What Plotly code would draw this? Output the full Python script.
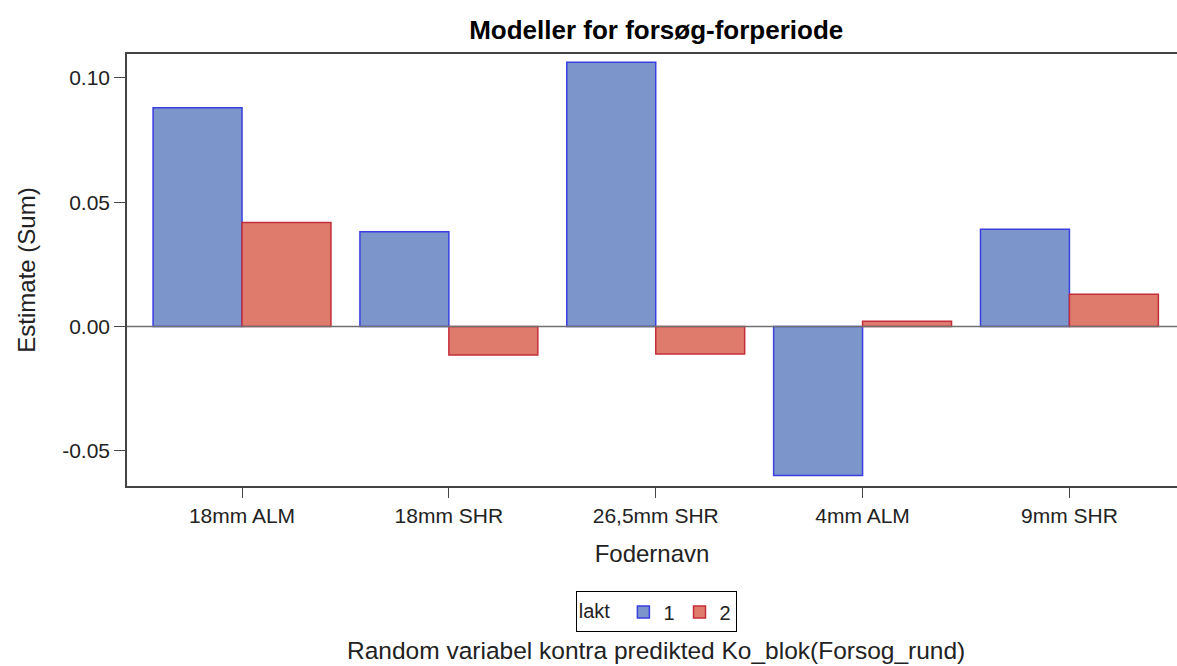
import plotly.graph_objects as go

categories = ["18mm ALM", "18mm SHR", "26,5mm SHR", "4mm ALM", "9mm SHR"]
lakt1 = [0.0880, 0.0381, 0.1063, -0.0599, 0.0391]
lakt2 = [0.0418, -0.0114, -0.0110, 0.0021, 0.0130]
y_ticks = [-0.05, 0.00, 0.05, 0.10]
y_labels = ["-0.05", "0.00", "0.05", "0.10"]

font = "Liberation Sans, Arial, sans-serif"

fig = go.Figure()
fig.add_trace(go.Bar(x=categories, y=lakt1, name="1",
                     marker=dict(color="#7C95CB", line=dict(color="#3A3FE0", width=1.5))))
fig.add_trace(go.Bar(x=categories, y=lakt2, name="2",
                     marker=dict(color="#DE7B6C", line=dict(color="#C42E3A", width=1.5))))

fig.add_hline(y=0, line=dict(color="#707070", width=1.5))

fig.update_layout(
    width=1177, height=666,
    margin=dict(l=127, r=0, t=54, b=180, autoexpand=False),
    paper_bgcolor="white", plot_bgcolor="white",
    font=dict(family=font, size=21, color="#222"),
    barmode="group", bargap=0.14, bargroupgap=0,
    title=dict(text="<b>Modeller for forsøg-forperiode</b>", x=0.504, xref="paper", xanchor="center",
               y=0.955, yanchor="middle", font=dict(size=26, family=font, color="black")),
    showlegend=True,
    legend=dict(orientation="h", x=0.504, xanchor="center", y=-0.244, yanchor="top",
                title=dict(text="lakt ", side="left", font=dict(size=20)), bordercolor="black", borderwidth=1,
                font=dict(size=20), itemwidth=30, traceorder="normal", tracegroupgap=0),
    xaxis=dict(title=dict(text="Fodernavn", standoff=19, font=dict(size=24)),
               range=[-0.556, 4.52], showline=True, linecolor="#444", linewidth=1.5, mirror=True,
               ticks="outside", ticklen=10, tickcolor="#444", showgrid=False, zeroline=False,
               tickfont=dict(size=21)),
    yaxis=dict(title=dict(text="Estimate (Sum)", standoff=20, font=dict(size=24)),
               range=[-0.0641, 0.1096], tickvals=y_ticks, ticktext=y_labels,
               showline=True, linecolor="#444", linewidth=1.5, mirror=False,
               ticks="outside", ticklen=11, tickcolor="#444", showgrid=False, zeroline=False,
               tickfont=dict(size=21)),
)

fig.add_annotation(text="Random variabel kontra predikted Ko_blok(Forsog_rund)",
                   xref="paper", yref="paper", x=0.504, y=-0.381, xanchor="center", yanchor="middle",
                   showarrow=False, font=dict(size=24.5, family=font, color="#222"))

fig.write_html("out.html", config={"displayModeBar": False},
               post_script="document.body.style.margin='0';")
